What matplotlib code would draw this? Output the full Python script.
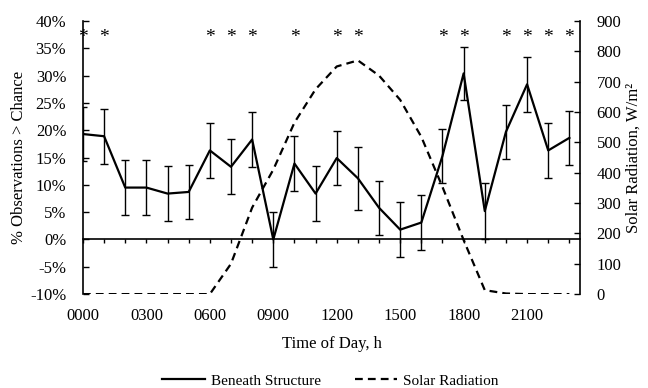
import numpy as np
import matplotlib.pyplot as plt
import matplotlib.transforms as mtransforms
from matplotlib.lines import Line2D

plt.rcParams['font.family'] = ['Liberation Serif', 'DejaVu Serif']

hours = np.arange(24)
hour_labels = ['0000', '0300', '0600', '0900', '1200', '1500', '1800', '2100']

beneath = [19.3, 18.9, 9.5, 9.5, 8.4, 8.7, 16.3, 13.3, 18.3, 0.0, 13.9, 8.4,
           14.9, 11.2, 5.8, 1.8, 3.1, 15.3, 30.4, 5.2, 19.7, 28.4, 16.3, 18.6]
beneath_err = [5.0, 5.0, 5.0, 5.0, 5.0, 5.0, 5.0, 5.0, 5.0, 5.0, 5.0, 5.0,
               5.0, 5.8, 4.9, 5.0, 5.0, 5.0, 4.9, 5.1, 5.0, 5.0, 5.0, 5.0]
solar = [0, 0, 0, 0, 0, 0, 0, 100, 285, 410, 565, 675,
         750, 770, 720, 640, 518, 353, 178, 13, 2, 0, 0, 0]
significant = [0, 1, 6, 7, 8, 10, 12, 13, 17, 18, 20, 21, 22, 23]

fig = plt.figure(figsize=(6.48, 3.88), dpi=100)
ax = fig.add_axes([0.128, 0.242, 0.767, 0.704])
ax2 = ax.twinx()

ax.errorbar(hours, beneath, yerr=beneath_err, color='black', lw=1.6,
            ecolor='black', elinewidth=1, capsize=3, capthick=1, zorder=3)
dash = (0, (3.5, 2.3))
ax2.plot(hours, solar, color='black', lw=1.6, ls=dash)

# asterisks for hours above chance
for h in significant:
    ax.text(h, 36.9, '*', ha='center', va='center', fontsize=14)

ax.set_xlim(0, 23.5)
ax.set_ylim(-10, 40)
ax.set_yticks(np.arange(-10, 41, 5))
ax.set_yticklabels([f'{v}%' for v in range(-10, 41, 5)], fontsize=12)
ax.tick_params(axis='y', direction='in', length=4, width=1, pad=12)

ax2.set_ylim(0, 900)
ax2.set_yticks(np.arange(0, 901, 100))
ax2.tick_params(axis='y', direction='in', length=4, width=1, labelsize=12,
                pad=12)

ax.spines['top'].set_visible(False)
ax2.spines['top'].set_visible(False)
ax.spines['bottom'].set_position(('data', 0))
ax2.spines['bottom'].set_visible(False)
for s in ['left', 'bottom']:
    ax.spines[s].set_linewidth(1.2)
ax2.spines['right'].set_linewidth(1.2)
ax2.spines['left'].set_visible(False)
ax.spines['right'].set_visible(False)

ax.set_xticks(hours)
ax.tick_params(axis='x', direction='out', length=3, width=1, labelbottom=False)

trans = mtransforms.blended_transform_factory(ax.transData, ax.transAxes)
for i, lab in enumerate(hour_labels):
    ax.text(hours[i * 3], -0.05, lab, transform=trans, ha='center', va='top',
            fontsize=12)

ax.text(0.5, -0.155, 'Time of Day, h', transform=ax.transAxes,
        ha='center', va='top', fontsize=12)
ax.set_ylabel('% Observations > Chance', fontsize=12, labelpad=2)
ax2.set_ylabel('Solar Radiation, W/m²', fontsize=12, labelpad=3)

handles = [Line2D([], [], color='black', lw=1.6),
           Line2D([], [], color='black', lw=1.6, ls=dash)]
fig.legend(handles, ['Beneath Structure', 'Solar Radiation'],
           loc='lower center', bbox_to_anchor=(0.51, -0.035),
           ncol=2, frameon=False, fontsize=11, handlelength=2.8,
           columnspacing=2.2, handletextpad=0.4)

fig.savefig('out.png', dpi=100)
